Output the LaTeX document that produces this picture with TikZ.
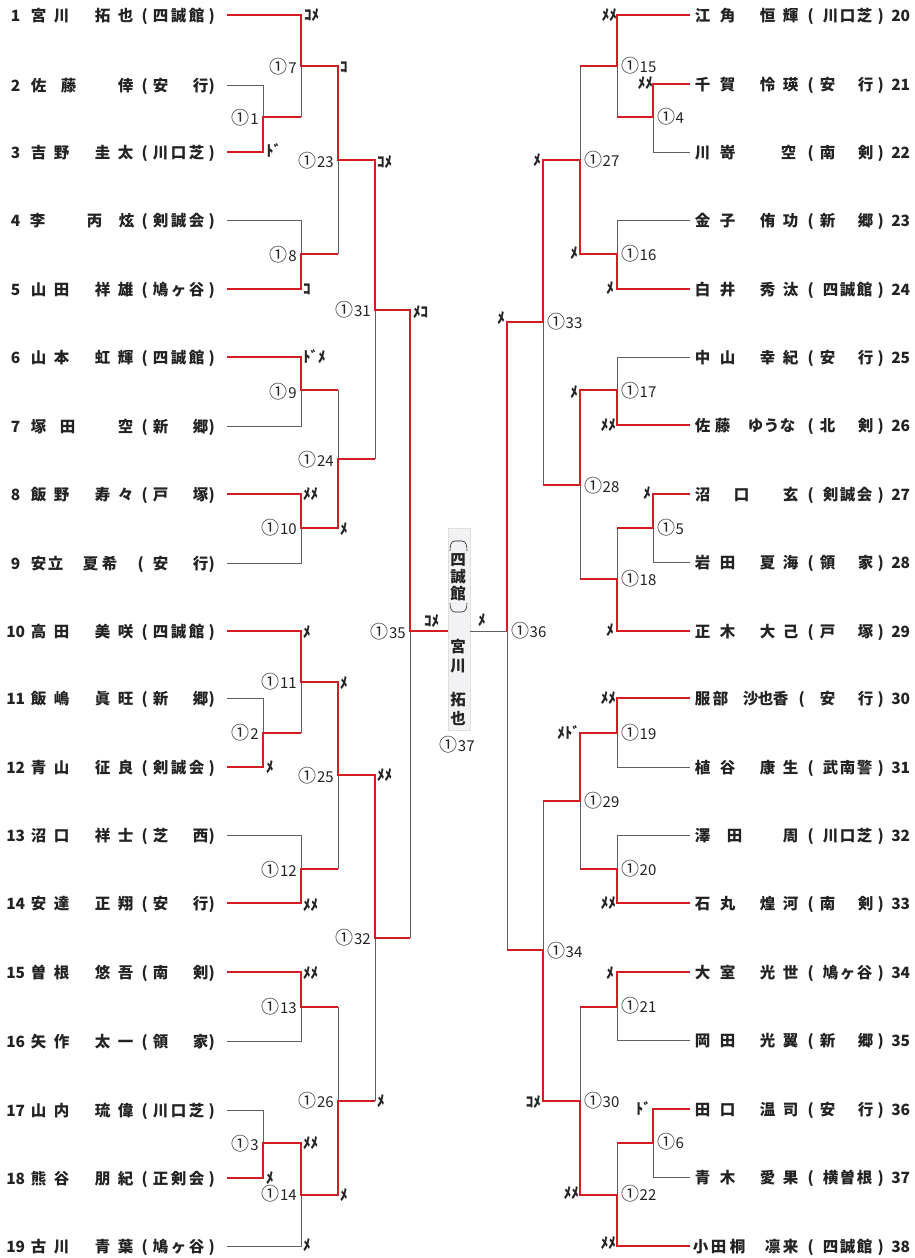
\documentclass[tikz,border=0pt]{standalone}
\usepackage{fontspec}
\setmainfont{Noto Sans CJK JP}
\definecolor{wred}{RGB}{212,28,34}
\definecolor{lgray}{RGB}{95,95,95}
\definecolor{ink}{RGB}{35,35,35}
\definecolor{boxfill}{RGB}{242,242,244}
\newcommand\qAt[2]{\rlap{\hspace*{#1pt}\makebox[0pt]{#2}}}
\newcommand\qLN[5]{\qAt{15}{#1}\qAt{38}{#2}\qAt{61}{#3}\qAt{102}{#4}\qAt{125}{#5}}
\newcommand\qLP{\qAt{144}{(}\qAt{211}{)}}
\newcommand\qLC[3]{\qAt{160}{#1}\qAt{178}{#2}\qAt{196}{#3}}
\newcommand\qLD[2]{\qAt{160}{#1}\qAt{200}{#2}}
\newcommand\qRN[5]{\qAt{702}{#1}\qAt{727}{#2}\qAt{767}{#3}\qAt{790}{#4}\qAt{900}{#5}}
\newcommand\qRP{\qAt{810}{(}\qAt{880}{)}}
\newcommand\qRC[3]{\qAt{830}{#1}\qAt{847}{#2}\qAt{864}{#3}}
\newcommand\qRD[2]{\qAt{827}{#1}\qAt{865}{#2}}
\newcommand\qM[1]{{\fontsize{18}{18}\selectfont ①}\kern0.5pt#1}
\tikzset{
  rowtext/.style={anchor=base west, inner sep=0pt, font=\fontsize{15.5}{15.5}\selectfont\bfseries, text=ink},
  scoreL/.style={anchor=west, inner sep=0pt, font=\fontsize{15}{15}\selectfont\bfseries, text=ink},
  scoreR/.style={anchor=east, inner sep=0pt, font=\fontsize{15}{15}\selectfont\bfseries, text=ink},
  labL/.style={anchor=east, inner sep=0pt, font=\fontsize{15}{15}\selectfont, text=ink},
  labR/.style={anchor=west, inner sep=0pt, font=\fontsize{15}{15}\selectfont, text=ink},
  vchar/.style={inner sep=0pt, font=\fontsize{15.5}{15.5}\selectfont\bfseries, text=ink},
  winline/.style={draw=wred, line width=2.3pt},
  loseline/.style={draw=lgray, line width=0.75pt},
}
\begin{document}
\begin{tikzpicture}[x=1pt,y=-1pt]
\fill[white] (0,0) rectangle (914,1258);
\useasboundingbox (0,0) rectangle (914,1258);

% ---------- player rows (left) ----------
\node[rowtext] (n1)  at (0,21)   {\qLN{1}{宮}{川}{拓}{也}\qLP\qLC{四}{誠}{館}};
\node[rowtext] (n2)  at (0,91)   {\qAt{15}{2}\qAt{38}{佐}\qAt{68}{藤}\qAt{125}{倖}\qLP\qLD{安}{行}};
\node[rowtext] (n3)  at (0,158)  {\qLN{3}{吉}{野}{圭}{太}\qLP\qLC{川}{口}{芝}};
\node[rowtext] (n4)  at (0,226)  {\qAt{15}{4}\qAt{37}{李}\qAt{94}{丙}\qAt{126}{炫}\qLP\qLC{剣}{誠}{会}};
\node[rowtext] (n5)  at (0,295)  {\qLN{5}{山}{田}{祥}{雄}\qLP\qLC{鳩}{ヶ}{谷}};
\node[rowtext] (n6)  at (0,363)  {\qLN{6}{山}{本}{虹}{輝}\qLP\qLC{四}{誠}{館}};
\node[rowtext] (n7)  at (0,432)  {\qAt{15}{7}\qAt{38}{塚}\qAt{67}{田}\qAt{125}{空}\qLP\qLD{新}{郷}};
\node[rowtext] (n8)  at (0,500)  {\qLN{8}{飯}{野}{寿}{々}\qLP\qLD{戸}{塚}};
\node[rowtext] (n9)  at (0,569)  {\qAt{15}{9}\qAt{38}{安}\qAt{55}{立}\qAt{90}{夏}\qAt{109}{希}\qAt{140}{(}\qLD{安}{行}\qAt{211}{)}};
\node[rowtext] (n10) at (0,637)  {\qLN{10}{高}{田}{美}{咲}\qLP\qLC{四}{誠}{館}};
\node[rowtext] (n11) at (0,704)  {\qLN{11}{飯}{嶋}{眞}{旺}\qLP\qLD{新}{郷}};
\node[rowtext] (n12) at (0,773)  {\qLN{12}{青}{山}{征}{良}\qLP\qLC{剣}{誠}{会}};
\node[rowtext] (n13) at (0,841)  {\qLN{13}{沼}{口}{祥}{士}\qLP\qLD{芝}{西}};
\node[rowtext] (n14) at (0,909)  {\qLN{14}{安}{達}{正}{翔}\qLP\qLD{安}{行}};
\node[rowtext] (n15) at (0,978)  {\qLN{15}{曽}{根}{悠}{吾}\qLP\qLD{南}{剣}};
\node[rowtext] (n16) at (0,1047) {\qLN{16}{矢}{作}{太}{一}\qLP\qLD{領}{家}};
\node[rowtext] (n17) at (0,1116) {\qLN{17}{山}{内}{琉}{偉}\qLP\qLC{川}{口}{芝}};
\node[rowtext] (n18) at (0,1184) {\qLN{18}{熊}{谷}{朋}{紀}\qLP\qLC{正}{剣}{会}};
\node[rowtext] (n19) at (0,1252) {\qLN{19}{古}{川}{青}{葉}\qLP\qLC{鳩}{ヶ}{谷}};

% ---------- player rows (right) ----------
\node[rowtext] (n20) at (0,21)   {\qRN{江}{角}{恒}{輝}{20}\qRP\qRC{川}{口}{芝}};
\node[rowtext] (n21) at (0,90)   {\qRN{千}{賀}{怜}{瑛}{21}\qRP\qRD{安}{行}};
\node[rowtext] (n22) at (0,158)  {\qAt{702}{川}\qAt{727}{嵜}\qAt{788}{空}\qAt{900}{22}\qRP\qRD{南}{剣}};
\node[rowtext] (n23) at (0,226)  {\qRN{金}{子}{侑}{功}{23}\qRP\qRD{新}{郷}};
\node[rowtext] (n24) at (0,295)  {\qRN{白}{井}{秀}{汰}{24}\qRP\qRC{四}{誠}{館}};
\node[rowtext] (n25) at (0,363)  {\qRN{中}{山}{幸}{紀}{25}\qRP\qRD{安}{行}};
\node[rowtext] (n26) at (0,431)  {\qAt{702}{佐}\qAt{722}{藤}\qAt{755}{ゆ}\qAt{771}{う}\qAt{787}{な}\qAt{900}{26}\qRP\qRD{北}{剣}};
\node[rowtext] (n27) at (0,500)  {\qAt{702}{沼}\qAt{741}{口}\qAt{790}{玄}\qAt{900}{27}\qRP\qRC{剣}{誠}{会}};
\node[rowtext] (n28) at (0,568)  {\qRN{岩}{田}{夏}{海}{28}\qRP\qRD{領}{家}};
\node[rowtext] (n29) at (0,637)  {\qRN{正}{木}{大}{己}{29}\qRP\qRD{戸}{塚}};
\node[rowtext] (n30) at (0,704)  {\qAt{702}{服}\qAt{720}{部}\qAt{750}{沙}\qAt{765}{也}\qAt{780}{香}\qAt{900}{30}\qAt{801}{(}\qAt{880}{)}\qRD{安}{行}};
\node[rowtext] (n31) at (0,773)  {\qRN{植}{谷}{康}{生}{31}\qRP\qRC{武}{南}{警}};
\node[rowtext] (n32) at (0,841)  {\qAt{702}{澤}\qAt{734}{田}\qAt{790}{周}\qAt{900}{32}\qRP\qRC{川}{口}{芝}};
\node[rowtext] (n33) at (0,909)  {\qRN{石}{丸}{煌}{河}{33}\qRP\qRD{南}{剣}};
\node[rowtext] (n34) at (0,978)  {\qRN{大}{室}{光}{世}{34}\qRP\qRC{鳩}{ヶ}{谷}};
\node[rowtext] (n35) at (0,1046) {\qRN{岡}{田}{光}{翼}{35}\qRP\qRD{新}{郷}};
\node[rowtext] (n36) at (0,1115) {\qRN{田}{口}{温}{司}{36}\qRP\qRD{安}{行}};
\node[rowtext] (n37) at (0,1183) {\qRN{青}{木}{愛}{果}{37}\qRP\qRC{横}{曽}{根}};
\node[rowtext] (n38) at (0,1252) {\qAt{700}{小}\qAt{718}{田}\qAt{737}{桐}\qAt{772}{凛}\qAt{790}{来}\qAt{900}{38}\qRP\qRC{四}{誠}{館}};

% ---------- line start points ----------
\coordinate (a1) at (227,15);   \coordinate (a2) at (227,85);   \coordinate (a3) at (227,152);
\coordinate (a4) at (227,220);  \coordinate (a5) at (227,289);  \coordinate (a6) at (227,357);
\coordinate (a7) at (227,426);  \coordinate (a8) at (227,494);  \coordinate (a9) at (227,563);
\coordinate (a10) at (227,631); \coordinate (a11) at (227,698); \coordinate (a12) at (227,767);
\coordinate (a13) at (227,835); \coordinate (a14) at (227,903); \coordinate (a15) at (227,972);
\coordinate (a16) at (227,1041);\coordinate (a17) at (227,1110);\coordinate (a18) at (227,1178);
\coordinate (a19) at (227,1246);
\coordinate (b20) at (690,15);  \coordinate (b21) at (690,84);  \coordinate (b22) at (690,152);
\coordinate (b23) at (690,220); \coordinate (b24) at (690,289); \coordinate (b25) at (690,357);
\coordinate (b26) at (690,425); \coordinate (b27) at (690,494); \coordinate (b28) at (690,562);
\coordinate (b29) at (690,631); \coordinate (b30) at (690,698); \coordinate (b31) at (690,767);
\coordinate (b32) at (690,835); \coordinate (b33) at (690,903); \coordinate (b34) at (690,972);
\coordinate (b35) at (690,1040);\coordinate (b36) at (690,1109);\coordinate (b37) at (690,1177);
\coordinate (b38) at (690,1246);

% ---------- match junctions ----------
\coordinate (m1) at (263,117);  \coordinate (m2) at (263,733);  \coordinate (m3) at (263,1143);
\coordinate (m7) at (301,66);   \coordinate (m8) at (301,254);  \coordinate (m9) at (301,390);
\coordinate (m10) at (301,528); \coordinate (m11) at (301,682); \coordinate (m12) at (301,869);
\coordinate (m13) at (301,1007);\coordinate (m14) at (301,1195);
\coordinate (m23) at (338,160); \coordinate (m24) at (338,459); \coordinate (m25) at (338,775);
\coordinate (m26) at (338,1101);
\coordinate (m31) at (375,310); \coordinate (m32) at (375,938);
\coordinate (m35) at (410,631);
\coordinate (m4) at (653,117);  \coordinate (m5) at (653,528);  \coordinate (m6) at (653,1143);
\coordinate (m15) at (617,66);  \coordinate (m16) at (617,254); \coordinate (m17) at (617,390);
\coordinate (m18) at (617,579); \coordinate (m19) at (617,733); \coordinate (m20) at (617,869);
\coordinate (m21) at (617,1007);\coordinate (m22) at (617,1195);
\coordinate (m27) at (580,160); \coordinate (m28) at (580,485); \coordinate (m29) at (580,801);
\coordinate (m30) at (580,1101);
\coordinate (m33) at (543,322); \coordinate (m34) at (543,950);
\coordinate (m36) at (507,631);

% ---------- center box ----------
\node[fill=boxfill, draw=gray!25, line width=0.4pt, minimum width=22pt, minimum height=202pt, inner sep=0pt] (box) at (459,629) {};
\coordinate (fin) at (box.west |- m35);
\coordinate (fr) at (box.east |- m36);
\draw[ink, line width=0.6pt] (450,551) to[out=90,in=180] (455,541) -- (462,541) to[out=0,in=90] (467,551);
\draw[ink, line width=0.6pt] (450,603) to[out=-90,in=180] (455,612) -- (462,612) to[out=0,in=-90] (467,603);
\node[vchar] (c1) at (458,560) {四};
\node[vchar] (c2) at (458,577) {誠};
\node[vchar] (c3) at (458,594) {館};
\node[vchar] (c4) at (458,647) {宮};
\node[vchar] (c5) at (458,666) {川};
\node[vchar] (c6) at (458,700) {拓};
\node[vchar] (c7) at (458,718) {也};
\node[inner sep=0pt, font=\fontsize{15}{15}\selectfont, text=ink] (l37) at (457,745) {\qM{37}};

% ---------- losing segments (gray) ----------
\draw[loseline] (a2) -| (m1);
\draw[loseline] (m7 |- m1) -- (m7);
\draw[loseline] (a4) -| (m8);
\draw[loseline] (m23 |- m8) -- (m23);
\draw[loseline] (m24 |- m9) -- (m24);
\draw[loseline] (a7) -| (m9);
\draw[loseline] (m31 |- m24) -- (m31);
\draw[loseline] (a9) -| (m10);
\draw[loseline] (m35 |- m32) -- (m35);
\draw[loseline] (a11) -| (m2);
\draw[loseline] (m11 |- m2) -- (m11);
\draw[loseline] (a13) -| (m12);
\draw[loseline] (m25 |- m12) -- (m25);
\draw[loseline] (m26 |- m13) -- (m26);
\draw[loseline] (a16) -| (m13);
\draw[loseline] (a17) -| (m3);
\draw[loseline] (m32 |- m26) -- (m32);
\draw[loseline] (a19) -| (m14);
\draw[loseline] (m27 |- m15) -- (m27);
\draw[loseline] (m15 |- m4) -- (m15);
\draw[loseline] (b22) -| (m4);
\draw[loseline] (b23) -| (m16);
\draw[loseline] (m36) -- (fr);
\draw[loseline] (b25) -| (m17);
\draw[loseline] (m33 |- m28) -- (m33);
\draw[loseline] (m18 |- m5) -- (m18);
\draw[loseline] (b28) -| (m5);
\draw[loseline] (m28 |- m18) -- (m28);
\draw[loseline] (m34 |- m29) -- (m34);
\draw[loseline] (b31) -| (m19);
\draw[loseline] (b32) -| (m20);
\draw[loseline] (m29 |- m20) -- (m29);
\draw[loseline] (m30 |- m21) -- (m30);
\draw[loseline] (b35) -| (m21);
\draw[loseline] (m22 |- m6) -- (m22);
\draw[loseline] (b37) -| (m6);
\draw[loseline] (m36 |- m34) -- (m36);

% ---------- winning paths (red) ----------
\draw[winline] (a1) -| (m7) -| (m23) -| (m31) -| (m35) -- (fin);
\draw[winline] (a3) -| (m1) -- (m7 |- m1);
\draw[winline] (a5) -| (m8) -- (m23 |- m8);
\draw[winline] (a6) -| (m9) -- (m24 |- m9);
\draw[winline] (a8) -| (m10) -| (m24) -- (m31 |- m24);
\draw[winline] (a10) -| (m11) -| (m25) -| (m32) -- (m35 |- m32);
\draw[winline] (a12) -| (m2) -- (m11 |- m2);
\draw[winline] (a14) -| (m12) -- (m25 |- m12);
\draw[winline] (a15) -| (m13) -- (m26 |- m13);
\draw[winline] (a18) -| (m3) -| (m14) -| (m26) -- (m32 |- m26);
\draw[winline] (b20) -| (m15) -- (m27 |- m15);
\draw[winline] (b21) -| (m4) -- (m15 |- m4);
\draw[winline] (b24) -| (m16) -| (m27) -| (m33) -| (m36);
\draw[winline] (b26) -| (m17) -| (m28) -- (m33 |- m28);
\draw[winline] (b27) -| (m5) -- (m18 |- m5);
\draw[winline] (b29) -| (m18) -- (m28 |- m18);
\draw[winline] (b30) -| (m19) -| (m29) -- (m34 |- m29);
\draw[winline] (b33) -| (m20) -- (m29 |- m20);
\draw[winline] (b34) -| (m21) -- (m30 |- m21);
\draw[winline] (b36) -| (m6) -- (m22 |- m6);
\draw[winline] (b38) -| (m22) -| (m30) -| (m34) -- (m36 |- m34);

% ---------- scores ----------
\node[scoreL] (s1)  at (304,15)   {ｺﾒ};
\node[scoreL] (s2)  at (340,67)   {ｺ};
\node[scoreL] (s3)  at (266,150)  {ﾄﾞ};
\node[scoreL] (s4)  at (377,162)  {ｺﾒ};
\node[scoreL] (s5)  at (303,289)  {ｺ};
\node[scoreL] (s6)  at (413,312)  {ﾒｺ};
\node[scoreL] (s7)  at (303,357)  {ﾄﾞﾒ};
\node[scoreL] (s8)  at (303,494)  {ﾒﾒ};
\node[scoreL] (s9)  at (340,529)  {ﾒ};
\node[scoreL] (s10) at (303,632)  {ﾒ};
\node[scoreL] (s11) at (340,683)  {ﾒ};
\node[scoreL] (s12) at (266,767)  {ﾒ};
\node[scoreL] (s13) at (377,775)  {ﾒﾒ};
\node[scoreL] (s14) at (303,905)  {ﾒﾒ};
\node[scoreL] (s15) at (303,973)  {ﾒﾒ};
\node[scoreL] (s16) at (377,1101) {ﾒ};
\node[scoreL] (s17) at (303,1143) {ﾒﾒ};
\node[scoreL] (s18) at (266,1178) {ﾒ};
\node[scoreL] (s19) at (340,1195) {ﾒ};
\node[scoreL] (s20) at (303,1245) {ﾒ};
\node[scoreL] (s21) at (424,621)  {ｺﾒ};
\node[scoreL] (s22) at (478,620)  {ﾒ};
\node[scoreR] (s23) at (617,15)   {ﾒﾒ};
\node[scoreR] (s24) at (653,83)   {ﾒﾒ};
\node[scoreR] (s25) at (541,160)  {ﾒ};
\node[scoreR] (s26) at (578,253)  {ﾒ};
\node[scoreR] (s27) at (614,288)  {ﾒ};
\node[scoreR] (s28) at (505,318)  {ﾒ};
\node[scoreR] (s29) at (578,392)  {ﾒ};
\node[scoreR] (s30) at (616,425)  {ﾒﾒ};
\node[scoreR] (s31) at (651,493)  {ﾒ};
\node[scoreR] (s32) at (614,630)  {ﾒ};
\node[scoreR] (s33) at (616,698)  {ﾒﾒ};
\node[scoreR] (s34) at (580,733)  {ﾒﾄﾞ};
\node[scoreR] (s35) at (616,903)  {ﾒﾒ};
\node[scoreR] (s36) at (614,973)  {ﾒ};
\node[scoreR] (s37) at (541,1102) {ｺﾒ};
\node[scoreR] (s38) at (651,1108) {ﾄﾞ};
\node[scoreR] (s39) at (579,1193) {ﾒﾒ};
\node[scoreR] (s40) at (616,1243) {ﾒﾒ};

% ---------- match labels ----------
\node[labL] (l7)  at (297,67)   {\qM{7}};
\node[labL] (l1)  at (259,118)  {\qM{1}};
\node[labL] (l23) at (334,161)  {\qM{23}};
\node[labL] (l8)  at (297,255)  {\qM{8}};
\node[labL] (l31) at (371,310)  {\qM{31}};
\node[labL] (l9)  at (297,392)  {\qM{9}};
\node[labL] (l24) at (334,460)  {\qM{24}};
\node[labL] (l10) at (297,528)  {\qM{10}};
\node[labL] (l35) at (406,632)  {\qM{35}};
\node[labL] (l11) at (297,682)  {\qM{11}};
\node[labL] (l2)  at (259,733)  {\qM{2}};
\node[labL] (l25) at (334,776)  {\qM{25}};
\node[labL] (l12) at (297,870)  {\qM{12}};
\node[labL] (l32) at (371,938)  {\qM{32}};
\node[labL] (l13) at (297,1007) {\qM{13}};
\node[labL] (l26) at (334,1101) {\qM{26}};
\node[labL] (l3)  at (259,1144) {\qM{3}};
\node[labL] (l14) at (297,1194) {\qM{14}};
\node[labR] (l15) at (621,66)   {\qM{15}};
\node[labR] (l4)  at (657,117)  {\qM{4}};
\node[labR] (l27) at (584,160)  {\qM{27}};
\node[labR] (l16) at (621,254)  {\qM{16}};
\node[labR] (l33) at (547,322)  {\qM{33}};
\node[labR] (l17) at (621,391)  {\qM{17}};
\node[labR] (l28) at (584,486)  {\qM{28}};
\node[labR] (l5)  at (657,528)  {\qM{5}};
\node[labR] (l18) at (621,579)  {\qM{18}};
\node[labR] (l36) at (511,631)  {\qM{36}};
\node[labR] (l19) at (621,733)  {\qM{19}};
\node[labR] (l29) at (584,801)  {\qM{29}};
\node[labR] (l20) at (621,869)  {\qM{20}};
\node[labR] (l34) at (547,951)  {\qM{34}};
\node[labR] (l21) at (621,1006) {\qM{21}};
\node[labR] (l30) at (584,1101) {\qM{30}};
\node[labR] (l6)  at (657,1142) {\qM{6}};
\node[labR] (l22) at (621,1194) {\qM{22}};
\end{tikzpicture}
\end{document}
